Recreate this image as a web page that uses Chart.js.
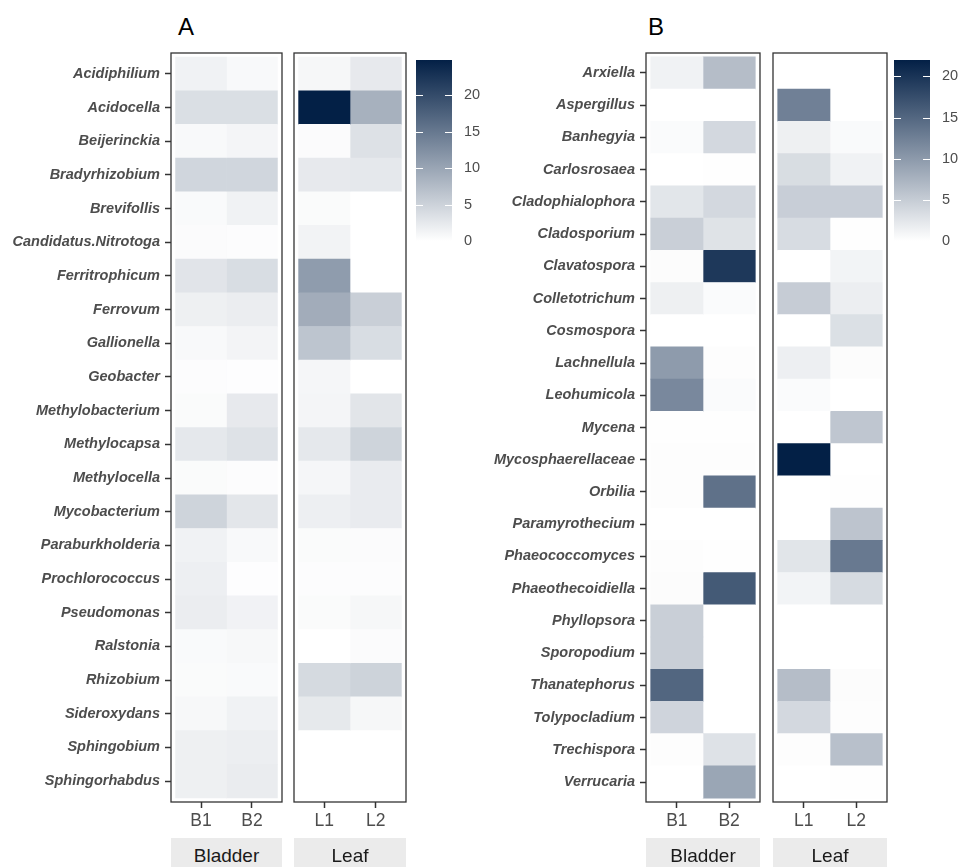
<!DOCTYPE html>
<html>
<head>
<meta charset="utf-8">
<script src="https://cdn.jsdelivr.net/npm/chart.js@4.4.1/dist/chart.umd.min.js"></script>
<style>
    body { margin: 0; background: #fff; }
    #page { position: relative; width: 961px; height: 867px; overflow: hidden; font-family: 'Liberation Sans', Arial, sans-serif; }
    #page canvas, .tag, .strip { position: absolute; }
    .tag { top: 15px; font-size: 24px; line-height: 24px; color: #000; }
    .strip { top: 838px; height: 36px; line-height: 36px; background: #ebebeb; color: #1a1a1a; font-size: 19px; text-align: center; }
</style>
</head>
<body>
<div id="page">
    <div class="tag" style="left:178px">A</div>
    <div class="tag" style="left:648px">B</div>

    <canvas id="a1" width="284" height="867" style="left:0;top:0"></canvas>
    <canvas id="a2" width="116" height="867" style="left:292px;top:0"></canvas>
    <canvas id="akey" width="70" height="262" style="left:416px;top:0"></canvas>

    <canvas id="b1" width="282" height="867" style="left:480px;top:0"></canvas>
    <canvas id="b2" width="118" height="867" style="left:771px;top:0"></canvas>
    <canvas id="bkey" width="67" height="262" style="left:894px;top:0"></canvas>

    <div class="strip" style="left:171px;width:111px">Bladder</div>
    <div class="strip" style="left:294px;width:112px">Leaf</div>
    <div class="strip" style="left:646px;width:114px">Bladder</div>
    <div class="strip" style="left:773px;width:114px">Leaf</div>
</div>

<script>

// Data {

    const bladder = ['B1', 'B2'];
    const leaf = ['L1', 'L2'];
    const breaks = [0, 5, 10, 15, 20];

    // Panel A (bacteria) {

        const generaA = [
            'Acidiphilium', 'Acidocella', 'Beijerinckia', 'Bradyrhizobium',
            'Brevifollis', 'Candidatus.Nitrotoga', 'Ferritrophicum', 'Ferrovum',
            'Gallionella', 'Geobacter', 'Methylobacterium', 'Methylocapsa',
            'Methylocella', 'Mycobacterium', 'Paraburkholderia', 'Prochlorococcus',
            'Pseudomonas', 'Ralstonia', 'Rhizobium', 'Sideroxydans',
            'Sphingobium', 'Sphingorhabdus'
        ];

        const aB1 = [1.5, 3.6, 0.7, 4.6, 0.6, 0.4, 3.0, 1.7, 0.7, 0.3, 0.5, 2.6, 0.5, 4.8, 1.5, 1.8, 2.0, 0.6, 0.5, 0.8, 1.7, 1.7];
        const aB2 = [0.7, 3.6, 1.1, 4.6, 1.5, 0.3, 3.8, 2.0, 1.2, 0.2, 2.4, 3.2, 0.3, 2.8, 0.7, 0.2, 1.4, 0.8, 0.6, 1.5, 1.9, 2.1];
        const aL1 = [0.9, 24.8, 0.4, 2.4, 0.5, 1.3, 11.0, 9.2, 6.5, 1.0, 1.1, 2.6, 1.0, 1.8, 0.5, 0.3, 0.5, 0, 4.1, 2.5, 0, 0];
        const aL2 = [2.4, 8.7, 3.3, 2.6, 0, 0, 0, 5.3, 3.8, 0, 2.9, 4.8, 2.2, 2.2, 0.4, 0.3, 0.9, 0.4, 4.9, 0.9, 0, 0];

        const maxA = 24.8;

    // };

    // Panel B (fungi) {

        const generaB = [
            'Arxiella', 'Aspergillus', 'Banhegyia', 'Carlosrosaea',
            'Cladophialophora', 'Cladosporium', 'Clavatospora', 'Colletotrichum',
            'Cosmospora', 'Lachnellula', 'Leohumicola', 'Mycena',
            'Mycosphaerellaceae', 'Orbilia', 'Paramyrothecium', 'Phaeococcomyces',
            'Phaeothecoidiella', 'Phyllopsora', 'Sporopodium', 'Thanatephorus',
            'Tolypocladium', 'Trechispora', 'Verrucaria'
        ];

        const bB1 = [1.3, 0, 0.4, 0, 2.5, 4.7, 0.3, 1.5, 0, 9.9, 11.7, 0.1, 0.2, 0.2, 0, 0.2, 0.3, 4.7, 4.7, 15.1, 4.2, 0.2, 0];
        const bB2 = [6.5, 0, 3.8, 0.1, 3.8, 2.8, 19.6, 0.4, 0, 0.2, 0.4, 0.1, 0.2, 14.0, 0, 0.1, 16.3, 0, 0, 0, 0, 2.9, 8.8];
        const bL1 = [0, 12.5, 1.5, 3.4, 4.8, 3.5, 0, 5.0, 0, 1.6, 0.4, 0, 22.0, 0, 0, 2.6, 1.1, 0, 0, 6.5, 3.8, 0.2, 0];
        const bL2 = [0, 0, 0.5, 1.3, 4.8, 0.1, 1.1, 1.7, 3.1, 0.3, 0, 5.6, 0, 0.1, 5.8, 13.2, 3.6, 0, 0, 0.3, 0.2, 6.2, 0.1];

        const maxB = 22;

    // };

// };

// Colour ramp {

    const low = [255, 255, 255];
    const high = [3, 32, 70];

    function shade(v, max) {
        const f = Math.max(0, Math.min(1, v / max));
        const c = low.map((l, i) => Math.round(l + (high[i] - l) * f));
        return 'rgb(' + c.join(',') + ')';
    }

// };

// Plugins {

    Chart.defaults.font.family = "'Liberation Sans', Arial, sans-serif";

    // panel border round each facet
    const frame = {
        id: 'frame',
        afterDraw(c) {
            const a = c.chartArea, x = c.ctx;
            x.save();
            x.strokeStyle = '#333333';
            x.lineWidth = 1.3;
            x.strokeRect(a.left, a.top, a.width, a.height);
            x.restore();
        }
    };

    // white tick notches inside the colour bar
    const notches = {
        id: 'notches',
        afterDatasetsDraw(c) {
            const a = c.chartArea, y = c.scales.y, x = c.ctx;
            x.save();
            x.strokeStyle = '#ffffff';
            x.lineWidth = 1;
            breaks.forEach(v => {
                const p = Math.round(y.getPixelForValue(v)) + 0.5;
                x.beginPath();
                x.moveTo(a.left, p);
                x.lineTo(a.left + 7, p);
                x.moveTo(a.right - 7, p);
                x.lineTo(a.right, p);
                x.stroke();
            });
            x.restore();
        }
    };

// };

// Chart Function {

    function facet(id, genera, cols, vals, max, yw, pad) {
        new Chart(document.getElementById(id), {
            type: 'bar',
            data: {
                datasets: cols.map((c, ci) => ({
                    label: c,
                    data: genera.map((g, gi) => ({ x: [ci - 0.5, ci + 0.5], y: gi })),
                    backgroundColor: vals[ci].map(v => shade(v, max)),
                    borderWidth: 0,
                    grouped: false,
                    barPercentage: 1,
                    categoryPercentage: 1
                }))
            },
            options: {
                indexAxis: 'y',
                responsive: false,
                animation: false,
                events: [],
                layout: { padding: pad },
                plugins: { legend: { display: false }, tooltip: { enabled: false } },
                scales: {
                    x: {
                        type: 'linear',
                        min: -0.59,
                        max: 1.59,
                        offset: false,
                        afterBuildTicks: s => { s.ticks = cols.map((c, i) => ({ value: i })); },
                        afterFit: s => { s.height = 65; },
                        ticks: {
                            callback: v => cols[v],
                            color: '#4d4d4d',
                            font: { size: 17.5 },
                            padding: 2.5,
                            autoSkip: false,
                            maxRotation: 0
                        },
                        grid: { offset: false, drawOnChartArea: false, tickLength: 6, tickWidth: 1.5, tickColor: '#333333' },
                        border: { display: false }
                    },
                    y: {
                        type: 'linear',
                        reverse: true,
                        offset: false,
                        display: yw > 0,
                        min: -0.62,
                        max: genera.length - 0.38,
                        afterBuildTicks: s => { s.ticks = genera.map((g, i) => ({ value: i })); },
                        afterFit: s => { s.width = yw; },
                        ticks: {
                            callback: v => genera[v],
                            color: '#4d4d4d',
                            font: { size: 14.5, weight: 'bold', style: 'italic' },
                            padding: 5,
                            autoSkip: false
                        },
                        grid: { offset: false, drawOnChartArea: false, tickLength: 6, tickWidth: 1.5, tickColor: '#333333' },
                        border: { display: false }
                    }
                }
            },
            plugins: [frame]
        });
    }

    function colorbar(id, max, yw) {
        new Chart(document.getElementById(id), {
            type: 'bar',
            data: {
                labels: [''],
                datasets: [{
                    data: [[0, max]],
                    backgroundColor: ctx => {
                        const ch = ctx.chart, a = ch.chartArea;
                        if (!a) return shade(max, max);
                        const g = ch.ctx.createLinearGradient(0, a.bottom, 0, a.top);
                        g.addColorStop(0, shade(0, max));
                        g.addColorStop(1, shade(max, max));
                        return g;
                    },
                    borderWidth: 0,
                    barPercentage: 1,
                    categoryPercentage: 1
                }]
            },
            options: {
                responsive: false,
                animation: false,
                events: [],
                layout: { padding: { top: 60, bottom: 21 } },
                plugins: { legend: { display: false }, tooltip: { enabled: false } },
                scales: {
                    x: { display: false },
                    y: {
                        position: 'right',
                        min: 0,
                        max: max,
                        afterBuildTicks: s => { s.ticks = breaks.map(v => ({ value: v })); },
                        afterFit: s => { s.width = yw; },
                        ticks: { color: '#4d4d4d', font: { size: 14.5 }, padding: 12 },
                        grid: { display: false, drawTicks: false },
                        border: { display: false }
                    }
                }
            },
            plugins: [notches]
        });
    }

    // Panel A {
        facet('a1', generaA, bladder, [aB1, aB2], maxA, 171, { top: 53, right: 2 });
        facet('a2', generaA, leaf, [aL1, aL2], maxA, 0, { top: 53, left: 2, right: 2 });
        colorbar('akey', maxA, 34);
    // };

    // Panel B {
        facet('b1', generaB, bladder, [bB1, bB2], maxB, 166, { top: 53, right: 2 });
        facet('b2', generaB, leaf, [bL1, bL2], maxB, 0, { top: 53, left: 2, right: 2 });
        colorbar('bkey', maxB, 31);
    // };

// };

</script>
</body>
</html>
